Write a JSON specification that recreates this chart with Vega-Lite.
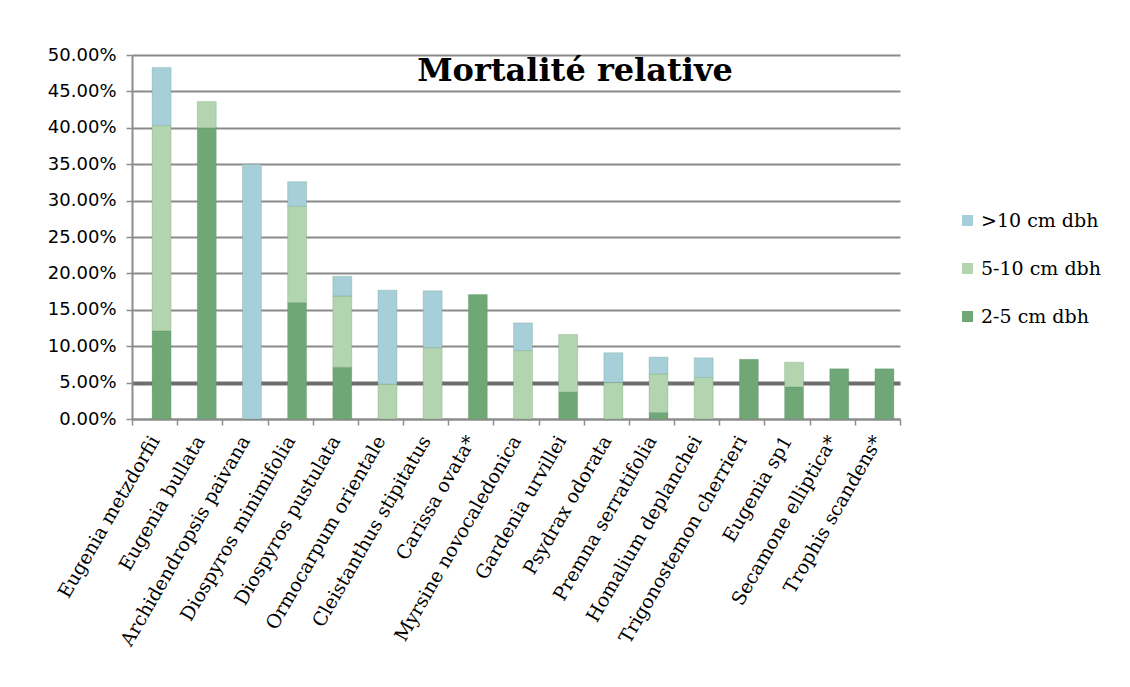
{
  "$schema": "https://vega.github.io/schema/vega-lite/v6.json",
  "autosize": {"type": "none"},
  "width": 768,
  "height": 364,
  "padding": {"left": 132, "top": 55, "right": 230, "bottom": 268},
  "background": "white",
  "title": {
    "text": "Mortalité relative",
    "font": "DejaVu Serif",
    "fontSize": 32,
    "fontWeight": "bold",
    "color": "black",
    "anchor": "middle",
    "frame": "group",
    "offset": 0,
    "dx": 59,
    "dy": 42
  },
  "data": {
    "values": [
      {"species": "Eugenia metzdorfii", "classe": "2-5 cm dbh", "min_dbh": 2, "mortalite": 0.121},
      {"species": "Eugenia metzdorfii", "classe": "5-10 cm dbh", "min_dbh": 5, "mortalite": 0.282},
      {"species": "Eugenia metzdorfii", "classe": ">10 cm dbh", "min_dbh": 10, "mortalite": 0.080},
      {"species": "Eugenia bullata", "classe": "2-5 cm dbh", "min_dbh": 2, "mortalite": 0.400},
      {"species": "Eugenia bullata", "classe": "5-10 cm dbh", "min_dbh": 5, "mortalite": 0.036},
      {"species": "Archidendropsis paivana", "classe": ">10 cm dbh", "min_dbh": 10, "mortalite": 0.350},
      {"species": "Diospyros minimifolia", "classe": "2-5 cm dbh", "min_dbh": 2, "mortalite": 0.160},
      {"species": "Diospyros minimifolia", "classe": "5-10 cm dbh", "min_dbh": 5, "mortalite": 0.132},
      {"species": "Diospyros minimifolia", "classe": ">10 cm dbh", "min_dbh": 10, "mortalite": 0.034},
      {"species": "Diospyros pustulata", "classe": "2-5 cm dbh", "min_dbh": 2, "mortalite": 0.071},
      {"species": "Diospyros pustulata", "classe": "5-10 cm dbh", "min_dbh": 5, "mortalite": 0.098},
      {"species": "Diospyros pustulata", "classe": ">10 cm dbh", "min_dbh": 10, "mortalite": 0.027},
      {"species": "Ormocarpum orientale", "classe": "5-10 cm dbh", "min_dbh": 5, "mortalite": 0.048},
      {"species": "Ormocarpum orientale", "classe": ">10 cm dbh", "min_dbh": 10, "mortalite": 0.129},
      {"species": "Cleistanthus stipitatus", "classe": "5-10 cm dbh", "min_dbh": 5, "mortalite": 0.098},
      {"species": "Cleistanthus stipitatus", "classe": ">10 cm dbh", "min_dbh": 10, "mortalite": 0.078},
      {"species": "Carissa ovata*", "classe": "2-5 cm dbh", "min_dbh": 2, "mortalite": 0.171},
      {"species": "Myrsine novocaledonica", "classe": "5-10 cm dbh", "min_dbh": 5, "mortalite": 0.094},
      {"species": "Myrsine novocaledonica", "classe": ">10 cm dbh", "min_dbh": 10, "mortalite": 0.038},
      {"species": "Gardenia urvillei", "classe": "2-5 cm dbh", "min_dbh": 2, "mortalite": 0.037},
      {"species": "Gardenia urvillei", "classe": "5-10 cm dbh", "min_dbh": 5, "mortalite": 0.079},
      {"species": "Psydrax odorata", "classe": "5-10 cm dbh", "min_dbh": 5, "mortalite": 0.050},
      {"species": "Psydrax odorata", "classe": ">10 cm dbh", "min_dbh": 10, "mortalite": 0.041},
      {"species": "Premna serratifolia", "classe": "2-5 cm dbh", "min_dbh": 2, "mortalite": 0.009},
      {"species": "Premna serratifolia", "classe": "5-10 cm dbh", "min_dbh": 5, "mortalite": 0.053},
      {"species": "Premna serratifolia", "classe": ">10 cm dbh", "min_dbh": 10, "mortalite": 0.023},
      {"species": "Homalium deplanchei", "classe": "5-10 cm dbh", "min_dbh": 5, "mortalite": 0.057},
      {"species": "Homalium deplanchei", "classe": ">10 cm dbh", "min_dbh": 10, "mortalite": 0.027},
      {"species": "Trigonostemon cherrieri", "classe": "2-5 cm dbh", "min_dbh": 2, "mortalite": 0.082},
      {"species": "Eugenia sp1", "classe": "2-5 cm dbh", "min_dbh": 2, "mortalite": 0.044},
      {"species": "Eugenia sp1", "classe": "5-10 cm dbh", "min_dbh": 5, "mortalite": 0.034},
      {"species": "Secamone elliptica*", "classe": "2-5 cm dbh", "min_dbh": 2, "mortalite": 0.069},
      {"species": "Trophis scandens*", "classe": "2-5 cm dbh", "min_dbh": 2, "mortalite": 0.069}
    ]
  },
  "mark": {"type": "bar", "width": 19, "xOffset": 7, "stroke": "#5f8f65", "strokeOpacity": 0.25, "strokeWidth": 1},
  "encoding": {
    "x": {
      "field": "species",
      "type": "nominal",
      "sort": null,
      "scale": {"paddingInner": 0, "paddingOuter": 0},
      "axis": {
        "title": null,
        "labelAngle": -60,
        "labelAlign": "right",
        "labelBaseline": "middle",
        "labelFont": "DejaVu Serif",
        "labelFontSize": 19,
        "labelColor": "black",
        "labelPadding": 12,
        "labelLimit": 300,
        "domainColor": "#8c8c8c",
        "domainWidth": 2,
        "tickColor": "#8c8c8c",
        "tickWidth": 1.5,
        "tickSize": 6,
        "tickBand": "extent",
        "grid": false
      }
    },
    "y": {
      "field": "mortalite",
      "type": "quantitative",
      "stack": "zero",
      "scale": {"domain": [0, 0.5], "nice": false},
      "axis": {
        "title": null,
        "format": ".2%",
        "values": [0, 0.05, 0.1, 0.15, 0.2, 0.25, 0.3, 0.35, 0.4, 0.45, 0.5],
        "labelFont": "DejaVu Sans",
        "labelFontSize": 18,
        "labelColor": "black",
        "labelPadding": 10,
        "domainColor": "#8c8c8c",
        "domainWidth": 2,
        "tickColor": "#8c8c8c",
        "tickWidth": 1.5,
        "tickSize": 6,
        "grid": true,
        "gridColor": {"condition": {"test": "datum.value === 0.05", "value": "#6e6e6e"}, "value": "#8a8a8a"},
        "gridWidth": {"condition": {"test": "datum.value === 0.05", "value": 4}, "value": 2}
      }
    },
    "color": {
      "field": "classe",
      "type": "nominal",
      "scale": {
        "domain": [">10 cm dbh", "5-10 cm dbh", "2-5 cm dbh"],
        "range": ["#a6cfda", "#b2d4af", "#6fa776"]
      },
      "legend": {
        "title": null,
        "orient": "none",
        "legendX": 826,
        "legendY": 156,
        "symbolType": "square",
        "symbolSize": 121,
        "symbolStrokeWidth": 0,
        "labelFont": "DejaVu Serif",
        "labelFontSize": 19,
        "labelColor": "black",
        "labelOffset": 4,
        "rowPadding": 28
      }
    },
    "order": {"field": "min_dbh", "type": "quantitative", "sort": "ascending"}
  },
  "config": {
    "view": {"stroke": null}
  }
}
